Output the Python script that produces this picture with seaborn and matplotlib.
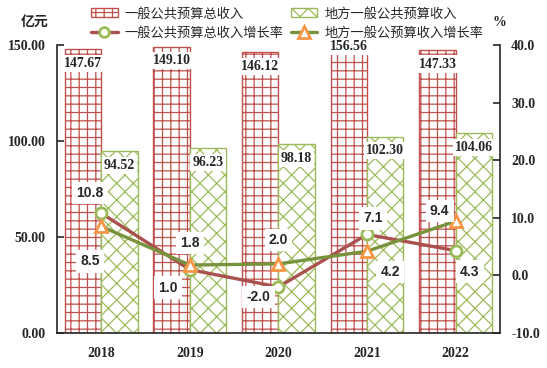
import numpy as np
import pandas as pd
import matplotlib
matplotlib.use('Agg')
import matplotlib.pyplot as plt
from matplotlib.patches import Patch
from matplotlib.lines import Line2D
import seaborn as sns

# ── Data ─────────────────────────────────────────────────────────────────────
years = ['2018', '2019', '2020', '2021', '2022']
total_revenue = [147.67, 149.10, 146.12, 156.56, 147.33]      # 亿元
local_revenue = [94.52, 96.23, 98.18, 102.30, 104.06]          # 亿元
total_growth = [10.8, 1.0, -2.0, 7.1, 4.3]                     # %
local_growth = [8.5, 1.8, 2.0, 4.2, 9.4]                       # %

bar_names = ['一般公共预算总收入', '地方一般公共预算收入']
line_names = ['一般公共预算总收入增长率', '地方一般公预算收入增长率']

# label offsets (pixels) for the growth-rate labels
total_offsets = [(-11, 20), (-22, -18), (-20, -10), (6, 16), (14, -21)]
local_offsets = [(-11, -35), (0, 22), (0, 24), (23, -21), (-16, 10)]

RED = '#C0504D'
GREEN = '#9BBB59'
RED_LINE = '#A9514F'
GREEN_LINE = '#77933C'
ORANGE = '#F79646'

sns.set_style('white')
plt.rcParams['font.family'] = ['Liberation Serif', 'Noto Sans CJK SC', 'DejaVu Sans']
plt.rcParams['hatch.linewidth'] = 0.9
plt.rcParams['axes.linewidth'] = 1.2

df = pd.DataFrame({
    'year': years * 2,
    'value': total_revenue + local_revenue,
    'series': [bar_names[0]] * len(years) + [bar_names[1]] * len(years),
})

fig = plt.figure(figsize=(5.47, 3.68), dpi=100)
ax = fig.add_axes([0.104, 0.095, 0.81, 0.783])

sns.barplot(data=df, x='year', y='value', hue='series', hue_order=bar_names,
            palette=['white', 'white'], saturation=1, width=0.82,
            errorbar=None, legend=False, ax=ax)

n = len(years)
for i, p in enumerate(ax.patches[:2 * n]):
    if i < n:
        p.set_hatch('++')
        p.set_edgecolor(RED)
    else:
        p.set_hatch('xx')
        p.set_edgecolor(GREEN)
    p.set_facecolor('white')
    p.set_linewidth(1.0)

ax.set_ylim(0, 150)
ax.set_xlim(-0.5, n - 0.5)
ax.set_yticks([0, 50, 100, 150])
ax.set_yticklabels([f'{v:.2f}' for v in [0, 50, 100, 150]])
ax.set_xticks(range(n))
ax.set_xticklabels(years)
ax.set_xticks(np.arange(0.5, n - 0.5), minor=True)
ax.tick_params(axis='x', which='major', length=0, pad=10)
ax.tick_params(axis='x', which='minor', direction='in', length=5, width=1.2)
ax.tick_params(axis='y', direction='in', length=5, width=1.2, pad=8, left=True)
ax.set_xlabel('')
ax.set_ylabel('')
for lab in ax.get_xticklabels() + ax.get_yticklabels():
    lab.set_fontweight('bold')
    lab.set_fontsize(10)
ax.spines['top'].set_visible(False)
ax.spines['right'].set_visible(False)

# bar value labels
for i, p in enumerate(ax.patches[:2 * n]):
    v = (total_revenue + local_revenue)[i]
    ax.annotate(f'{v:.2f}', xy=(p.get_x() + p.get_width() / 2, v),
                xytext=(0, -14), textcoords='offset pixels',
                ha='center', va='center', fontsize=10, fontweight='bold',
                annotation_clip=False,
                bbox=dict(boxstyle='square,pad=0.15', fc='white', ec='none'))

# growth lines
ax2 = ax.twinx()
pos = np.arange(n)
sns.lineplot(x=pos, y=total_growth, ax=ax2, color=RED_LINE, linewidth=2.4,
             marker='o', markersize=8, markerfacecolor='white',
             markeredgecolor=GREEN, markeredgewidth=2)
sns.lineplot(x=pos, y=local_growth, ax=ax2, color=GREEN_LINE, linewidth=2.4,
             marker='^', markersize=9, markerfacecolor='white',
             markeredgecolor=ORANGE, markeredgewidth=2)
ax2.set_ylim(-10, 40)
ax2.set_xlim(-0.5, n - 0.5)
ax2.set_yticks([-10, 0, 10, 20, 30, 40])
ax2.set_yticklabels([f'{v:.1f}' for v in [-10, 0, 10, 20, 30, 40]])
ax2.tick_params(axis='y', direction='in', length=5, width=1.2, pad=8, right=True)
for lab in ax2.get_yticklabels():
    lab.set_fontweight('bold')
    lab.set_fontsize(10)
for s in ['top', 'left', 'bottom']:
    ax2.spines[s].set_visible(False)
ax2.spines['right'].set_linewidth(1.2)

for vals, offs in [(total_growth, total_offsets), (local_growth, local_offsets)]:
    for x, v, off in zip(pos, vals, offs):
        ax2.annotate(f'{v:.1f}', xy=(x, v), xytext=off, textcoords='offset pixels',
                     ha='center', va='center', fontsize=10, fontweight='bold',
                     family=['Liberation Sans', 'DejaVu Sans'],
                     bbox=dict(boxstyle='square,pad=0.3', fc='white', ec='none'))

# axis unit labels
fig.text(0.064, 0.94, '亿元', ha='center', va='center', fontsize=10, fontweight='bold',
         family=['Noto Sans CJK SC', 'DejaVu Sans'])
fig.text(0.914, 0.94, '%', ha='center', va='center', fontsize=10, fontweight='bold')

handles = [
    Patch(facecolor='white', edgecolor=RED, hatch='++'),
    Line2D([], [], color=RED_LINE, linewidth=2.4, marker='o', markersize=7,
           markerfacecolor='white', markeredgecolor=GREEN, markeredgewidth=2),
    Patch(facecolor='white', edgecolor=GREEN, hatch='xx'),
    Line2D([], [], color=GREEN_LINE, linewidth=2.4, marker='^', markersize=8,
           markerfacecolor='white', markeredgecolor=ORANGE, markeredgewidth=2),
]
labels = [bar_names[0], line_names[0], bar_names[1], line_names[1]]
fig.legend(handles, labels, loc='upper left', bbox_to_anchor=(0.145, 1.012), ncol=2,
           frameon=False, handlelength=2.0, handletextpad=0.55,
           columnspacing=0.55, labelspacing=0.45,
           prop={'family': ['Noto Sans CJK SC', 'DejaVu Sans'], 'size': 9.5})

fig.savefig('out.png', dpi=100)
